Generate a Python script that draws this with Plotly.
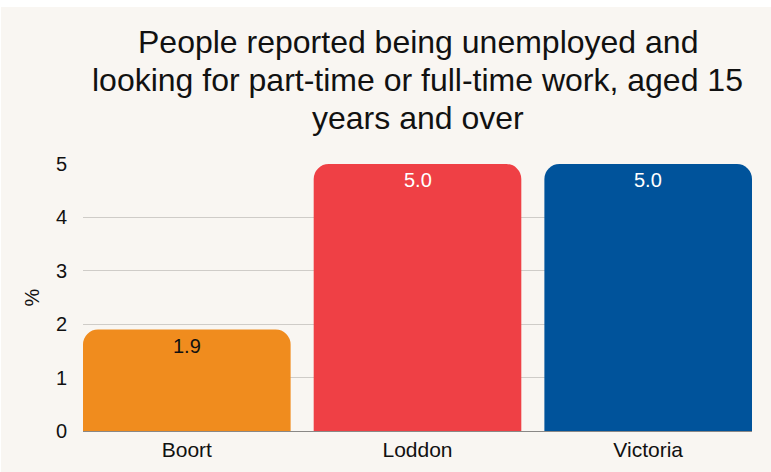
import plotly.graph_objects as go

# Unemployment share, people aged 15+ (%)
regions = ["Boort", "Loddon", "Victoria"]
values = [1.9, 5.0, 5.0]
bar_colors = ["#F08C1E", "#EF4045", "#00539B"]
label_colors = ["#111111", "#FFFFFF", "#FFFFFF"]
y_ticks = [0, 1, 2, 3, 4, 5]

title_lines = [
    "People reported being unemployed and",
    "looking for part-time or full-time work, aged 15",
    "years and over",
]

FONT = "Liberation Sans, Arial, Helvetica, sans-serif"
BG = "#F9F6F2"

W, H = 771, 472
M_L, M_R, M_T, M_B = 83, 19, 164, 41
plot_h = H - M_T - M_B
plot_w = W - M_L - M_R


def paper_y(px):
    """Pixel row from the top of the page -> paper y coordinate."""
    return 1 + (M_T - px) / plot_h


def paper_x(px):
    return (px - M_L) / plot_w


xs = list(range(len(regions)))

fig = go.Figure(
    go.Bar(
        x=xs,
        y=values,
        width=0.9,
        marker=dict(color=bar_colors, cornerradius=15, line=dict(width=0)),
        hoverinfo="skip",
    )
)

# value labels just inside the top of each bar
for xi, v, c in zip(xs, values, label_colors):
    fig.add_annotation(
        x=xi, y=v, xref="x", yref="y",
        text=f"{v:.1f}", showarrow=False,
        yanchor="middle", yshift=-16,
        font=dict(size=20, color=c, family=FONT),
    )

# three-line centred heading
for i, line in enumerate(title_lines):
    fig.add_annotation(
        x=0.5, y=paper_y(42 + 38 * i), xref="paper", yref="paper",
        text=line, showarrow=False,
        xanchor="center", yanchor="middle",
        font=dict(size=32, color="#111111", family=FONT),
    )

# page background with a thin white rim along the top and left
fig.add_shape(
    type="rect", xref="paper", yref="paper", layer="below",
    x0=paper_x(1), x1=paper_x(W + 5), y0=paper_y(H + 5), y1=paper_y(7),
    fillcolor=BG, line=dict(width=0),
)

fig.update_layout(
    width=W,
    height=H,
    margin=dict(l=M_L, r=M_R, t=M_T, b=M_B),
    paper_bgcolor="#FFFFFF",
    plot_bgcolor=BG,
    font=dict(family=FONT, color="#111111"),
    showlegend=False,
)

fig.update_xaxes(
    range=[-0.45, 2.45],
    tickmode="array",
    tickvals=xs,
    ticktext=regions,
    tickfont=dict(size=21),
    showgrid=False,
    ticks="",
    showline=False,
    zeroline=False,
    ticklabelstandoff=4,
)

fig.update_yaxes(
    range=[0, 5],
    tickvals=y_ticks,
    tickfont=dict(size=20),
    gridcolor="#CFCCC8",
    gridwidth=1,
    zeroline=True,
    zerolinecolor="#8A8886",
    zerolinewidth=1,
    ticks="",
    ticklabelstandoff=15,
    title=dict(text="%", font=dict(size=20), standoff=10),
)

fig.write_html("out.html")
